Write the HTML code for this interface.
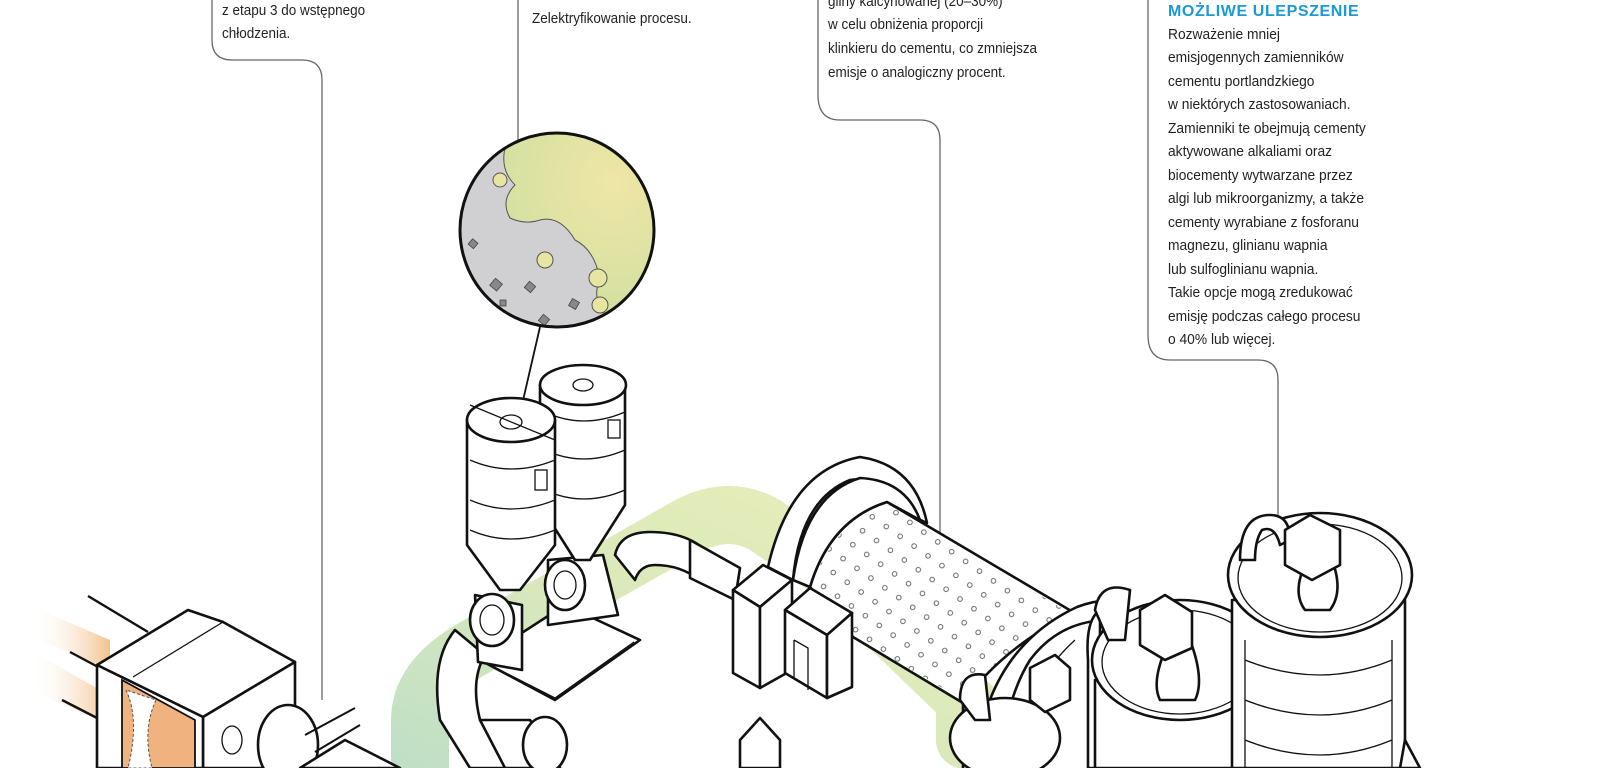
<!DOCTYPE html>
<html><head><meta charset="utf-8"><style>
html,body{margin:0;padding:0;background:#fff;}
svg{display:block}
text{font-family:"Liberation Sans Narrow","Liberation Sans",sans-serif;font-size:15px;fill:#222;}
.s{fill:#fff;stroke:#111;stroke-width:2.6;stroke-linejoin:round;stroke-linecap:round}
.t{fill:none;stroke:#111;stroke-width:1.3}
.c{fill:none;stroke:#666;stroke-width:1.3}
</style></head><body>
<svg width="1600" height="768" viewBox="0 0 1600 768" xmlns="http://www.w3.org/2000/svg">
<defs>
<linearGradient id="gb" x1="0" y1="1" x2="1" y2="0">
<stop offset="0" stop-color="#b9dcc0"/><stop offset="0.5" stop-color="#d6e6b4"/><stop offset="1" stop-color="#e6ecb0"/></linearGradient>
<linearGradient id="or" x1="0" y1="0" x2="1" y2="0">
<stop offset="0" stop-color="#fff" stop-opacity="0"/><stop offset="1" stop-color="#f0b77a"/></linearGradient>
<radialGradient id="mg" cx="0.75" cy="0.3" r="0.7"><stop offset="0" stop-color="#efe6a6"/><stop offset="1" stop-color="#cfe0a0"/></radialGradient>
<pattern id="dots" width="17" height="17" patternUnits="userSpaceOnUse" patternTransform="rotate(35)">
<circle cx="8" cy="8" r="2.3" fill="none" stroke="#555" stroke-width="0.9"/></pattern>
<clipPath id="mc"><circle cx="557" cy="230" r="96"/></clipPath>
</defs>

<!-- callout lines -->
<path class="c" d="M212 0 V40 Q212 60 232 60 H302 Q322 60 322 80 V700"/>
<path class="c" d="M518 0 V140"/>
<path class="c" d="M818 0 V95 Q818 120 840 120 H920 Q940 120 940 140 V545"/>
<path class="c" d="M1148 0 V335 Q1148 360 1170 360 H1258 Q1278 360 1278 380 V515"/>

<!-- texts -->
<g transform="translate(222,0) scale(0.9,1)">
<text x="0" y="15">z etapu 3 do wstępnego</text>
<text x="0" y="38">chłodzenia.</text>
</g>
<g transform="translate(532,0) scale(0.9,1)"><text x="0" y="23">Zelektryfikowanie procesu.</text></g>
<g transform="translate(828,0) scale(0.9,1)">
<text x="0" y="6">gliny kalcynowanej (20–30%)</text>
<text x="0" y="29">w celu obniżenia proporcji</text>
<text x="0" y="53">klinkieru do cementu, co zmniejsza</text>
<text x="0" y="77">emisje o analogiczny procent.</text>
</g>
<text x="1168" y="16" style="fill:#1a9ad6;font-weight:bold;font-family:'Liberation Sans',sans-serif;font-size:16px;letter-spacing:0.6px">MOŻLIWE ULEPSZENIE</text>
<g transform="translate(1168,0) scale(0.92,1)">
<text x="0" y="39">Rozważenie mniej</text>
<text x="0" y="62">emisjogennych zamienników</text>
<text x="0" y="86">cementu portlandzkiego</text>
<text x="0" y="109">w niektórych zastosowaniach.</text>
<text x="0" y="133">Zamienniki te obejmują cementy</text>
<text x="0" y="156">aktywowane alkaliami oraz</text>
<text x="0" y="180">biocementy wytwarzane przez</text>
<text x="0" y="203">algi lub mikroorganizmy, a także</text>
<text x="0" y="227">cementy wyrabiane z fosforanu</text>
<text x="0" y="250">magnezu, glinianu wapnia</text>
<text x="0" y="274">lub sulfoglinianu wapnia.</text>
<text x="0" y="297">Takie opcje mogą zredukować</text>
<text x="0" y="321">emisję podczas całego procesu</text>
<text x="0" y="344">o 40% lub więcej.</text>
</g>

<!-- green band -->
<path d="M420 768 V720 Q420 680 470 650 L690 525 Q730 505 765 525 L830 570 L965 700 L965 740" fill="none" stroke="url(#gb)" stroke-width="58" stroke-linecap="round" opacity="0.9"/>

<!-- magnifier -->
<circle cx="557" cy="230" r="97" fill="#d0d0d2"/>
<g clip-path="url(#mc)">
<path d="M470 120 L660 120 L660 330 L610 320 Q590 300 600 280 Q595 250 575 240 Q560 215 540 220 Q525 225 510 218 Q500 200 515 185 Q500 170 505 148 Q500 140 470 140 Z" fill="url(#mg)" stroke="#555" stroke-width="1"/>
<circle cx="545" cy="260" r="8" fill="#e6e6a0" stroke="#555" stroke-width="1"/>
<circle cx="598" cy="278" r="9" fill="#e6e6a0" stroke="#555" stroke-width="1"/>
<circle cx="600" cy="305" r="8" fill="#e6e6a0" stroke="#555" stroke-width="1"/>
<circle cx="500" cy="180" r="7" fill="#e6e6a0" stroke="#555" stroke-width="1"/>
<g fill="#888" stroke="#444" stroke-width="0.8">
<rect x="492" y="280" width="9" height="9" transform="rotate(40 496 284)"/>
<rect x="526" y="283" width="8" height="8" transform="rotate(40 530 287)"/>
<rect x="470" y="240" width="7" height="7" transform="rotate(40 473 243)"/>
<rect x="540" y="316" width="8" height="8" transform="rotate(40 544 320)"/>
<rect x="570" y="300" width="8" height="8" transform="rotate(30 574 304)"/>
<rect x="500" y="300" width="6" height="6"/>
<rect x="465" y="300" width="7" height="7"/>
</g>
</g>
<circle cx="557" cy="230" r="97" fill="none" stroke="#111" stroke-width="3"/>
<path d="M540 327 L518 422" stroke="#111" stroke-width="1.8"/>

<!-- furnace -->
<path d="M40 610 L110 640 L110 670 L40 640 Z M30 650 L100 690 L100 720 L30 690 Z" fill="url(#or)" opacity="0.85"/>
<path d="M88 596 L148 632 M70 652 L100 668 M62 700 L97 718" stroke="#111" stroke-width="2.4"/>
<path class="s" d="M97 665 L188 610 L223 622 L295 662 L203 717 Z"/>
<path class="t" d="M133 677 L223 622"/>
<path class="s" d="M203 717 L295 662 L295 768 L203 768 Z"/>
<path class="s" d="M97 665 L203 717 L203 768 L97 768 Z"/>
<path d="M122 680 L195 720 L195 768 L122 768 Z" fill="#f0b27e" stroke="#111" stroke-width="1.8"/>
<path d="M126 690 Q140 720 128 768 L152 768 Q142 730 156 700 Z" fill="#fff" stroke="#555" stroke-dasharray="3 2"/>
<ellipse cx="232" cy="740" rx="10" ry="14" class="t"/>
<ellipse cx="288" cy="745" rx="30" ry="40" class="s"/>
<path d="M305 735 L355 708 M315 752 L360 725" stroke="#111" stroke-width="2"/>
<path class="s" d="M300 768 L345 740 L400 768 Z"/>

<!-- pipes and pumps -->
<path class="s" d="M615 555 Q620 532 650 532 Q690 532 710 555 L700 580 Q680 565 655 565 Q640 565 635 580 Z"/>
<path class="s" d="M455 630 Q430 660 440 720 L470 768 L510 768 L480 720 Q470 680 485 655 Z"/>
<path class="s" d="M480 720 L530 720 L560 768 L505 768 Z"/>
<ellipse cx="545" cy="745" rx="22" ry="28" class="s"/>
<path class="s" d="M480 660 L555 700 L640 640 L565 605 Z"/>
<path class="t" d="M486 663 L555 698 L634 642"/>
<path class="s" d="M475 595 L522 605 L522 670 L478 662 Z"/>
<ellipse cx="492" cy="620" rx="22" ry="26" class="s"/>
<ellipse cx="492" cy="620" rx="12" ry="15" class="t"/>
<path class="s" d="M548 560 L603 555 L618 615 L548 625 Z"/>
<ellipse cx="565" cy="585" rx="20" ry="25" class="s"/>
<ellipse cx="565" cy="585" rx="11" ry="14" class="t"/>
<path class="s" d="M740 740 L760 718 L780 740 L780 768 L740 768 Z"/>

<!-- silo 2 (back) -->
<path class="s" d="M540 385 L540 505 L575 560 L590 560 L625 505 L625 385 Z"/>
<ellipse cx="583" cy="385" rx="43" ry="20" class="s"/>
<ellipse cx="583" cy="385" rx="10" ry="6" class="t"/>
<path class="t" d="M545 412 Q583 430 625 412 M545 450 Q583 468 625 450 M545 490 Q583 508 625 490"/>
<rect x="608" y="420" width="12" height="18" class="t"/>
<!-- silo 1 (front) -->
<path class="s" d="M467 420 L467 545 L500 590 L520 590 L555 545 L555 420 Z"/>
<ellipse cx="511" cy="420" rx="44" ry="22" class="s"/>
<ellipse cx="511" cy="422" rx="11" ry="7" class="t"/>
<path class="t" d="M470 405 L555 440 M470 460 Q511 478 555 460 M470 500 Q511 518 555 500 M470 530 Q511 548 555 530"/>
<rect x="535" y="470" width="12" height="20" class="t"/>

<!-- mill drum -->
<path d="M810 587 Q830 520 887 502 L1073 612 Q1000 650 963 703 L853 637 Z" fill="#fff" stroke="#111" stroke-width="2.6"/>
<path d="M812 587 Q832 522 887 504 L1070 613 Q1000 650 963 700 L853 636 Z" fill="url(#dots)"/>
<path d="M963 703 V768" stroke="#111" stroke-width="2.6"/>
<!-- right ring of drum -->
<path class="s" d="M975 768 Q985 650 1077 607 Q1100 598 1117 602 L1110 620 Q1060 620 1030 660 Q1005 700 1000 768 Z"/>
<path class="t" d="M1015 768 Q1020 690 1075 640"/>
<!-- arch -->
<path class="s" d="M768 567 Q790 470 860 457 Q915 465 927 523 L910 515 Q880 475 850 480 Q800 500 793 580 Z"/>
<path class="s" d="M793 580 Q805 495 860 478 Q905 480 920 520 L887 502 Q830 520 810 587 Z"/>
<!-- pipe into block -->
<path class="s" d="M690 540 L740 568 L735 600 L690 578 Z"/>
<!-- blocks -->
<path class="s" d="M733 590 L763 565 L792 580 L760 607 Z"/>
<path class="s" d="M733 590 L760 607 L760 688 L733 673 Z"/>
<path class="s" d="M760 607 L792 580 L792 670 L760 688 Z"/>
<path class="s" d="M785 610 L810 588 L852 613 L827 635 Z"/>
<path class="s" d="M785 610 L827 635 L827 698 L785 673 Z"/>
<path class="s" d="M827 635 L852 613 L852 687 L827 698 Z"/>
<path class="t" d="M794 640 L808 648 L808 690 M794 640 L794 678"/>

<!-- tanks -->
<ellipse cx="1005" cy="738" rx="55" ry="40" class="s"/>
<path class="s" d="M1030 668 L1055 655 L1070 668 L1070 700 L1045 712 L1030 700 Z"/>
<path class="s" d="M960 700 Q960 670 985 675 L990 720 L975 720 Z"/>

<path class="s" d="M1088 660 Q1085 620 1100 610 L1100 768 L1088 768 Z"/>
<path class="s" d="M1095 768 L1095 680 L1265 680 L1265 768 Z"/>
<ellipse cx="1180" cy="660" rx="88" ry="60" class="s"/>
<ellipse cx="1180" cy="662" rx="78" ry="52" class="t"/>
<path class="s" d="M1160 700 Q1150 680 1170 640 L1190 640 Q1205 680 1195 700 Z"/>
<path class="s" d="M1095 610 Q1100 580 1130 590 L1125 640 L1108 640 Z"/>
<path class="s" d="M1140 610 L1165 595 L1192 612 L1192 648 L1165 660 L1140 645 Z"/>

<path class="s" d="M1232 768 L1232 600 L1405 600 L1405 768 Z"/>
<path class="t" d="M1245 640 L1245 768 M1392 640 L1392 768 M1245 660 Q1320 690 1392 660 M1245 700 Q1320 730 1392 700 M1245 740 Q1320 770 1392 740"/>
<ellipse cx="1320" cy="575" rx="92" ry="62" class="s"/>
<ellipse cx="1320" cy="578" rx="82" ry="54" class="t"/>
<path class="s" d="M1305 610 Q1290 590 1310 555 L1330 555 Q1345 590 1330 610 Z"/>
<path class="s" d="M1240 560 Q1240 515 1270 515 Q1290 515 1290 540 L1280 545 Q1275 525 1262 530 Q1255 540 1255 560 Z"/>
<path class="s" d="M1285 530 L1310 515 L1340 530 L1340 565 L1312 580 L1285 565 Z"/>
<path class="s" d="M1405 740 L1420 768 L1400 768 Z"/>
</svg>
</body></html>
